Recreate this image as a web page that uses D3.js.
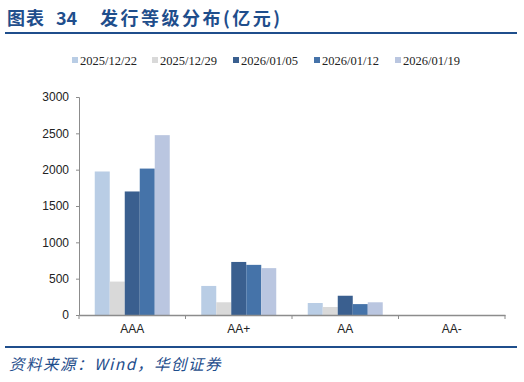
<!DOCTYPE html>
<html>
<head>
<meta charset="utf-8">
<script src="https://cdn.jsdelivr.net/npm/d3@7/dist/d3.min.js"></script>
<style>
  html, body { margin: 0; padding: 0; background: #fff; }
  svg { display: block; }
</style>
</head>
<body>
<svg id="chart" width="524" height="382"></svg>
<script>
// data
const categories = ['AAA', 'AA+', 'AA', 'AA-']
const seriesNames = ['2025/12/22', '2025/12/29', '2026/01/05', '2026/01/12', '2026/01/19']
const s20251222 = [1975, 400, 165, 0]
const s20251229 = [460, 175, 110, 0]
const s20260105 = [1700, 730, 265, 0]
const s20260112 = [2015, 690, 150, 0]
const s20260119 = [2475, 645, 175, 0]
const seriesValues = [s20251222, s20251229, s20260105, s20260112, s20260119]
const yTicks = [0, 500, 1000, 1500, 2000, 2500, 3000]
const colors = ['#B9CDE5', '#D9D9D9', '#3A5F8F', '#4573A9', '#BAC6E0']

const svg = d3.select('#chart')
const titleBlue = '#1F4E8C'

// header: three pieces so the wide gaps survive
const titleParts = [['图表', 7, 1], ['34', 56, 0], ['发行等级分布(亿元)', 100, 2.5]]
titleParts.forEach(([t, x, ls]) => {
  svg.append('text')
    .attr('x', x).attr('y', 25)
    .attr('font-family', '"Noto Sans CJK SC", serif')
    .attr('font-weight', 'bold')
    .attr('font-size', 18)
    .attr('letter-spacing', ls)
    .attr('fill', titleBlue)
    .text(t)
})
svg.append('line')
  .attr('x1', 5).attr('x2', 517).attr('y1', 33).attr('y2', 33)
  .attr('stroke', titleBlue).attr('stroke-width', 2)

// footer
svg.append('line')
  .attr('x1', 5).attr('x2', 517).attr('y1', 347).attr('y2', 347)
  .attr('stroke', titleBlue).attr('stroke-width', 2)
svg.append('text')
  .attr('x', 9).attr('y', 370)
  .attr('font-family', '"Noto Sans CJK SC", serif')
  .attr('font-style', 'italic')
  .attr('font-size', 15.5)
  .attr('letter-spacing', 1.5)
  .attr('fill', titleBlue)
  .text('资料来源：Wind，华创证券')

// plot
const plotLeft = 79, plotRight = 505, plotTop = 97, plotBottom = 315

const x0 = d3.scaleBand().domain(categories).range([plotLeft, plotRight]).paddingInner(0).paddingOuter(0)
const x1 = d3.scaleBand().domain(seriesNames)
  .range([0, x0.bandwidth()]).paddingInner(0).paddingOuter(1.05)
const y = d3.scaleLinear().domain([0, 3000]).range([plotBottom, plotTop])

const g = svg.append('g')
seriesNames.forEach((name, si) => {
  g.selectAll('rect.s' + si)
    .data(categories.map((c, ci) => ({ c, v: seriesValues[si][ci] })))
    .enter().append('rect')
    .attr('class', 's' + si)
    .attr('x', d => x0(d.c) + x1(name))
    .attr('width', x1.bandwidth())
    .attr('y', d => y(d.v))
    .attr('height', d => plotBottom - y(d.v))
    .attr('fill', colors[si])
})

const axisColor = '#8C8C8C'

// y axis
const yAxis = svg.append('g')
  .attr('transform', `translate(${plotLeft},0)`)
  .call(d3.axisLeft(y).tickValues(yTicks).tickSize(3).tickPadding(7).tickFormat(d3.format('d')))
yAxis.select('.domain').attr('stroke', axisColor)
yAxis.selectAll('.tick line').attr('stroke', axisColor)
yAxis.selectAll('.tick text')
  .attr('font-family', '"Liberation Sans", Arial, sans-serif')
  .attr('font-size', 12).attr('fill', '#222')

// x axis
const xAxis = svg.append('g')
  .attr('transform', `translate(0,${plotBottom})`)
  .call(d3.axisBottom(x0).tickSize(0).tickPadding(9))
xAxis.select('.domain').attr('stroke', axisColor).attr('stroke-width', 1.5)
xAxis.selectAll('.tick text')
  .attr('font-family', '"Liberation Sans", Arial, sans-serif')
  .attr('font-size', 12).attr('fill', '#222')
xAxis.selectAll('line.sep')
  .data(categories.map(c => x0(c)).concat([plotRight]))
  .enter().append('line')
  .attr('class', 'sep')
  .attr('x1', d => d).attr('x2', d => d)
  .attr('y1', 0).attr('y2', 4)
  .attr('stroke', axisColor)

// legend
const legendX = [72, 152, 233, 314, 395]
const legend = svg.append('g')
seriesNames.forEach((name, i) => {
  legend.append('rect')
    .attr('x', legendX[i]).attr('y', 57)
    .attr('width', 6).attr('height', 6)
    .attr('fill', colors[i])
  legend.append('text')
    .attr('x', legendX[i] + 8).attr('y', 65)
    .attr('font-family', '"Liberation Serif", "Times New Roman", serif')
    .attr('font-size', 12.5).attr('fill', '#222')
    .text(name)
})
</script>
</body>
</html>
